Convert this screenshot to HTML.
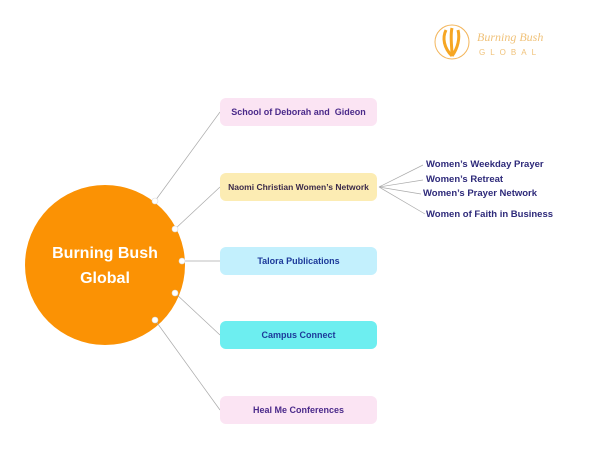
<!DOCTYPE html>
<html><head><style>
body{margin:0;width:600px;height:450px;background:#fff;position:relative;overflow:hidden;font-family:"Liberation Sans",sans-serif}
.b{position:absolute;left:220px;width:157px;height:28px;border-radius:6px;display:flex;align-items:center;justify-content:center;font-size:9px;font-weight:bold}
.s{position:absolute;font-size:9.5px;font-weight:bold;color:#2e2a7a;white-space:nowrap}
</style></head><body>
<svg width="600" height="450" style="position:absolute;left:0;top:0">
<circle cx="105" cy="265" r="80" fill="#fb9204"/>
<g stroke="#aaa" stroke-width="0.7" fill="none">
<line x1="155" y1="201" x2="220" y2="112"/>
<line x1="175" y1="229" x2="220" y2="187"/>
<line x1="182" y1="261" x2="220" y2="261"/>
<line x1="175" y1="293" x2="220" y2="335"/>
<line x1="155" y1="320" x2="220" y2="410"/>
<line x1="379" y1="187" x2="423" y2="165"/>
<line x1="379" y1="187" x2="423" y2="180"/>
<line x1="379" y1="187" x2="421" y2="194"/>
<line x1="379" y1="187" x2="425" y2="214"/>
</g>
<g fill="#fff" stroke="#ddd" stroke-width="0.6">
<circle cx="155" cy="201" r="3"/><circle cx="175" cy="229" r="3"/><circle cx="182" cy="261" r="3"/><circle cx="175" cy="293" r="3"/><circle cx="155" cy="320" r="3"/>
</g>
<circle cx="452" cy="42" r="17" fill="none" stroke="#f3b55a" stroke-width="1"/>
<path d="M452 56 C444 48 442 38 446 30 M452 56 C452 46 450 36 452 28 M452 56 C458 48 460 38 458 30" stroke="#f6a623" stroke-width="3" fill="none"/>
<text x="477" y="41" font-family="Liberation Serif" font-style="italic" font-size="12" fill="#f0c27a">Burning Bush</text>
<text x="479" y="55" font-size="8" letter-spacing="5" fill="#f0c27a">GLOBAL</text>
<text x="105" y="258" text-anchor="middle" font-size="16" font-weight="bold" fill="#fff">Burning Bush</text>
<text x="105" y="283" text-anchor="middle" font-size="16" font-weight="bold" fill="#fff">Global</text>
</svg>
<div class="b" style="top:98px;background:#fbe4f3;color:#4b2a8a">School of Deborah and&nbsp; Gideon</div>
<div class="b" style="top:173px;background:#fcecb3;color:#3b2a4a;font-size:8.5px">Naomi Christian Women’s Network</div>
<div class="b" style="top:247px;background:#c3f0fd;color:#1d3a9a">Talora Publications</div>
<div class="b" style="top:321px;background:#6deef0;color:#1d3a9a">Campus Connect</div>
<div class="b" style="top:396px;background:#fbe4f3;color:#4b2a8a">Heal Me Conferences</div>
<div class="s" style="left:426px;top:159px">Women’s Weekday Prayer</div>
<div class="s" style="left:426px;top:174px">Women’s Retreat</div>
<div class="s" style="left:423px;top:188px">Women’s Prayer Network</div>
<div class="s" style="left:426px;top:209px">Women of Faith in Business</div>
</body></html>
